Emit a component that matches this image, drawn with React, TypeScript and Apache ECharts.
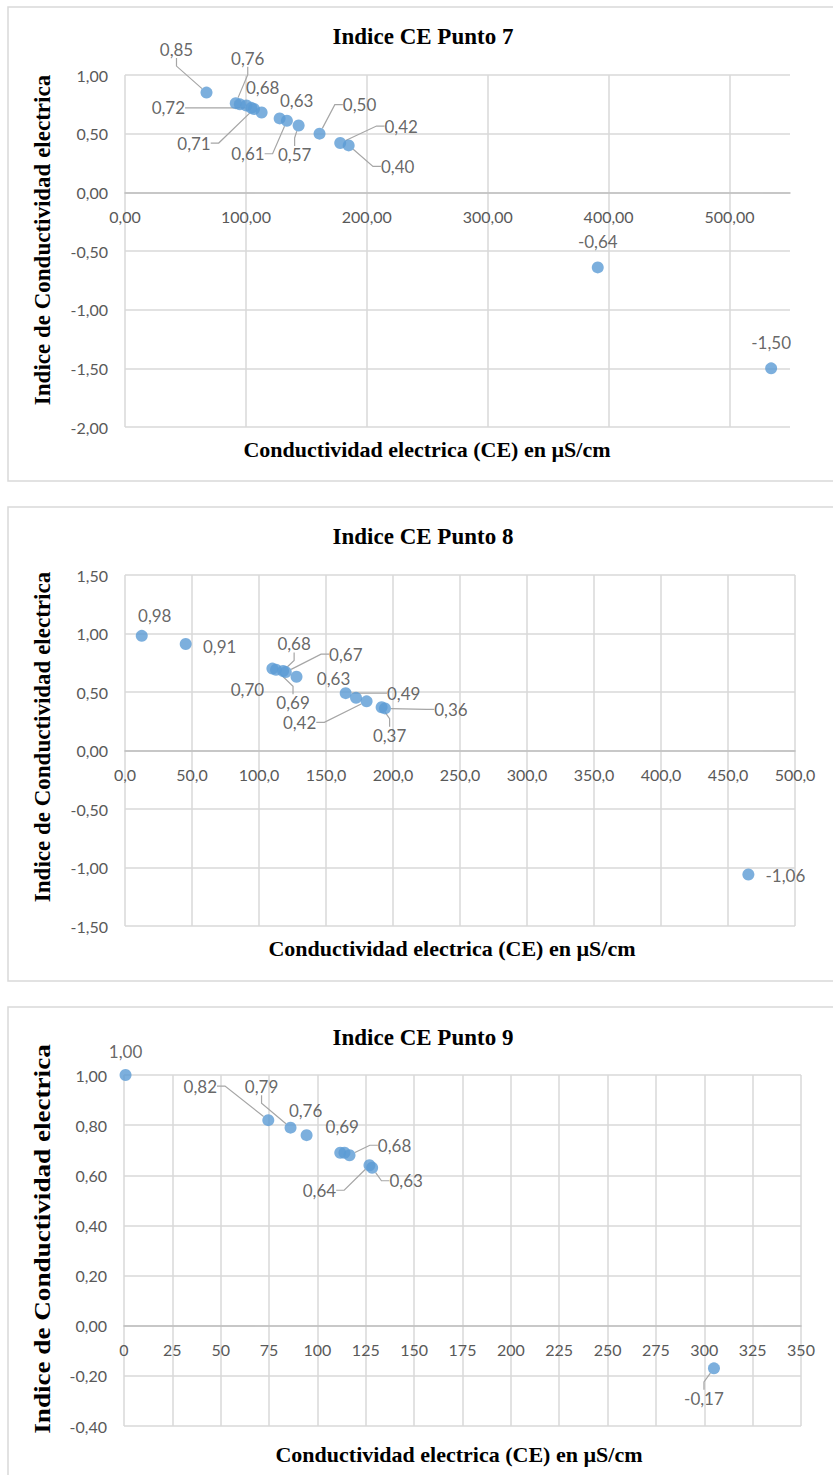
import React, { useEffect, useRef } from 'react';
import * as echarts from 'echarts';

// ---------- Chart 7 data ----------
const ce7 = [67.4, 91.6, 95.0, 100.4, 104.5, 106.7, 113.0, 127.9, 133.9, 143.6, 160.9, 178.0, 185.0, 391.0, 534.4];
const idx7 = [0.85, 0.76, 0.75, 0.74, 0.72, 0.71, 0.68, 0.63, 0.61, 0.57, 0.50, 0.42, 0.40, -0.64, -1.50];
const shown7 = [true, true, false, false, true, true, true, true, true, true, true, true, true, true, true];

// ---------- Chart 8 data ----------
const ce8 = [12.5, 45.3, 110.0, 112.7, 118.0, 120.0, 128.0, 164.7, 172.4, 180.3, 191.5, 194.0, 465.2];
const idx8 = [0.98, 0.91, 0.70, 0.69, 0.68, 0.67, 0.63, 0.49, 0.45, 0.42, 0.37, 0.36, -1.06];
const shown8 = [true, true, true, true, true, true, true, true, false, true, true, true, true];

// ---------- Chart 9 data ----------
const ce9 = [0.8, 74.6, 86.1, 94.4, 111.8, 114.0, 116.6, 126.9, 128.3, 305.0];
const idx9 = [1.0, 0.82, 0.79, 0.76, 0.69, 0.69, 0.68, 0.64, 0.63, -0.17];
const shown9 = [true, true, true, true, true, false, true, true, true, true];

// axis ranges [min, max, interval]
const xAxis7 = [0, 550, 100];
const yAxis7 = [-2, 1, 0.5];
const xAxis8 = [0, 500, 50];
const yAxis8 = [-1.5, 1.5, 0.5];
const xAxis9 = [0, 350, 25];
const yAxis9 = [-0.4, 1.0, 0.2];

const titles = ['Indice CE Punto 7', 'Indice CE Punto 8', 'Indice CE Punto 9'];
const yName = 'Indice de Conductividad electrica';
const xName = 'Conductividad electrica (CE) en µS/cm';

// label placement (offset of label centre from point centre, px) and leader lines
const off7 = [[-30, -43], [12, -45], [0, 0], [0, 0], [-83, 0], [-60, 34], [1, -25], [17, -18], [-39, 33], [-4, 29], [40, -29], [61, -17], [49, 21], [0, -26], [0, -26]];
const lead7 = [true, true, false, false, true, true, false, false, true, true, true, true, true, false, false];
const off8 = [[13, -20], [34, 2], [-25, 21], [17, 33], [11, -27], [60, -18], [37, 2], [58, 0], [0, 0], [-67, 21], [8, 28], [66, 1], [37, 1]];
const lead8 = [false, false, false, true, true, true, false, true, false, true, true, true, false];
const off9 = [[0, -24], [-68, -34], [-29, -41], [-1, -25], [2, -26], [0, 0], [45, -10], [-50, 25], [34, 13], [-10, 30]];
const lead9 = [false, true, true, false, false, false, true, true, true, true];

const fmt = (v: number, d: number) => v.toFixed(d).replace('.', ',');

const SANS = 'Lato';
const SERIF = 'Liberation Serif';

const grids = [
  { left: 125, top: 75, width: 665, height: 352 },
  { left: 125, top: 575, width: 670, height: 351 },
  { left: 124, top: 1075, width: 677, height: 351 },
];

function makeSeries(i: number, xs: number[], ys: number[], shown: boolean[], offs: number[][], leads: boolean[]) {
  return {
    type: 'scatter',
    xAxisIndex: i,
    yAxisIndex: i,
    symbol: 'circle',
    symbolSize: 12,
    itemStyle: { color: '#5B9BD5' },
    data: xs.map((x, k) => ({
      value: [x, ys[k]],
      label: { show: shown[k] },
      labelLine: { show: leads[k] },
    })),
    label: {
      show: true,
      position: 'top',
      formatter: (p: any) => fmt(p.value[1], 2),
      fontFamily: SANS,
      fontSize: 17,
      color: '#404040',
    },
    labelLine: { show: false, length2: 8, lineStyle: { color: '#A6A6A6', width: 1.2 } },
    labelLayout: (p: any) => {
      const o = offs[p.dataIndex] || [0, 0];
      return {
        x: p.rect.x + p.rect.width / 2 + o[0],
        y: p.rect.y + p.rect.height / 2 + o[1],
        align: 'center',
        verticalAlign: 'middle',
        hideOverlap: false,
      };
    },
  };
}

// x axis drawn along the y = 0 line (as in the spreadsheet chart)
function makeX(i: number, r: number[], dec: number, yr: number[]) {
  const zeroShift = ((0 - yr[0]) / (yr[1] - yr[0])) * grids[i].height;
  return {
    type: 'value',
    gridIndex: i,
    min: r[0],
    max: r[1],
    interval: r[2],
    offset: -zeroShift,
    axisLine: { show: true, onZero: false, lineStyle: { color: '#BFBFBF', width: 1.5 } },
    axisTick: { show: false },
    axisLabel: {
      formatter: (v: number) => fmt(v, dec),
      fontFamily: SANS,
      fontSize: 16,
      color: '#595959',
      margin: 16,
      showMaxLabel: (r[1] - r[0]) % r[2] === 0,
    },
    splitLine: {
      show: true,
      showMaxLine: (r[1] - r[0]) % r[2] === 0,
      lineStyle: { color: '#D9D9D9', width: 1.5 },
    },
  };
}

function makeY(i: number, r: number[]) {
  return {
    type: 'value',
    gridIndex: i,
    min: r[0],
    max: r[1],
    interval: r[2],
    axisLine: { show: false },
    axisTick: { show: false },
    axisLabel: {
      formatter: (v: number) => fmt(v, 2),
      fontFamily: SANS,
      fontSize: 16,
      color: '#595959',
      margin: 17,
    },
    splitLine: { show: true, lineStyle: { color: '#D9D9D9', width: 1.5 } },
  };
}

function serifText(text: string, x: number, y: number, size: number, extra: any = {}) {
  return {
    type: 'text',
    x,
    y,
    ...extra,
    style: {
      text,
      fontFamily: SERIF,
      fontWeight: 'bold',
      fontSize: size,
      fill: '#000000',
      align: 'center',
      verticalAlign: 'middle',
    },
  };
}

function box(y: number, h: number) {
  return {
    type: 'rect',
    shape: { x: 8, y, width: 900, height: h },
    style: { fill: 'none', stroke: '#D9D9D9', lineWidth: 1.5 },
    z: -1,
  };
}

export default function App() {
  const ref = useRef<HTMLDivElement>(null);
  useEffect(() => {
    if (!ref.current) return;
    const chart = echarts.init(ref.current, null, { renderer: 'svg' });
    chart.setOption({
      animation: false,
      backgroundColor: '#ffffff',
      grid: grids,
      xAxis: [makeX(0, xAxis7, 2, yAxis7), makeX(1, xAxis8, 1, yAxis8), makeX(2, xAxis9, 0, yAxis9)],
      yAxis: [makeY(0, yAxis7), makeY(1, yAxis8), makeY(2, yAxis9)],
      series: [
        makeSeries(0, ce7, idx7, shown7, off7, lead7),
        makeSeries(1, ce8, idx8, shown8, off8, lead8),
        makeSeries(2, ce9, idx9, shown9, off9, lead9),
      ],
      graphic: [
        box(7, 474),
        box(507, 474),
        box(1007, 500),
        serifText(titles[0], 423, 36, 23),
        serifText(titles[1], 423, 536, 23),
        serifText(titles[2], 423, 1037, 23),
        serifText(yName, 42, 240, 23, { rotation: Math.PI / 2 }),
        serifText(yName, 42, 737, 23, { rotation: Math.PI / 2 }),
        serifText(yName, 42, 1239, 23, { rotation: Math.PI / 2, scaleX: 1.18 }),
        serifText(xName, 427, 449, 22),
        serifText(xName, 452, 948, 22),
        serifText(xName, 459, 1454, 22),
      ],
    });
    return () => chart.dispose();
  }, []);
  return (
    <div
      ref={ref}
      style={{ position: 'absolute', left: 0, top: 0, width: 833, height: 1475, background: '#fff' }}
    />
  );
}
